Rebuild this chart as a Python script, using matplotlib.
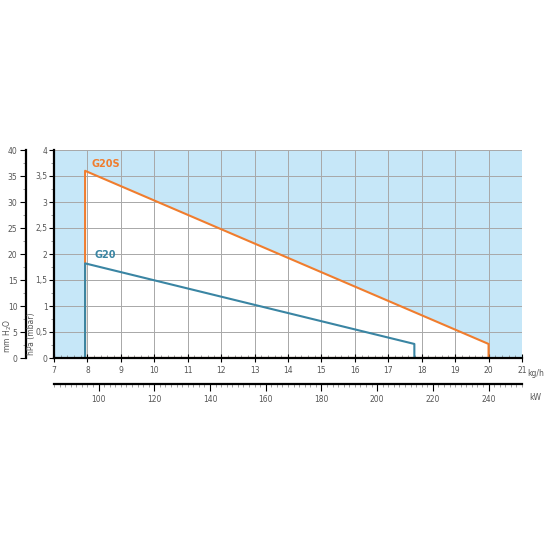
import matplotlib
matplotlib.use("Agg")
import matplotlib.pyplot as plt
from matplotlib.ticker import MultipleLocator, FuncFormatter

# data
g20s_x = [7.93, 7.93, 20.0, 20.0]
g20s_y = [0.0, 3.6, 0.27, 0.0]
g20_x = [7.93, 7.93, 17.78, 17.78]
g20_y = [0.0, 1.82, 0.27, 0.0]
x_ticks = list(range(7, 22))
y_ticks = [0, 0.5, 1, 1.5, 2, 2.5, 3, 3.5, 4]
mm_ticks = [0, 5, 10, 15, 20, 25, 30, 35, 40]
kw_ticks = [100, 120, 140, 160, 180, 200, 220, 240]
kw_per_kgh = 12.0
mm_per_hpa = 10.0

orange = "#f07d2e"
blue = "#3a85a3"
bg = "#c6e7f8"
tick_col = "#555555"

fig = plt.figure(figsize=(5.5, 5.5), dpi=100)
ax = fig.add_axes([54/550, 1-358/550, 468/550, 208/550])
ax.set_xlim(7, 21)
ax.set_ylim(0, 4)
ax.set_facecolor(bg)

ax.fill(g20s_x, g20s_y, color="white", zorder=0.8, lw=0)
ax.set_axisbelow(False)
ax.grid(True, color="#a8a8a8", lw=0.7, zorder=1)
for gl in ax.get_xgridlines() + ax.get_ygridlines():
    gl.set_zorder(1)

ax.plot(g20s_x + [g20s_x[0]], g20s_y + [g20s_y[0]], color=orange, lw=1.5, zorder=3)
ax.plot(g20_x, g20_y, color=blue, lw=1.5, zorder=3.5)

ax.text(8.12, 3.64, "G20S", color=orange, fontsize=7, fontweight="bold", ha="left", va="bottom")
ax.text(8.2, 1.88, "G20", color=blue, fontsize=7, fontweight="bold", ha="left", va="bottom")

for s in ["top", "right"]:
    ax.spines[s].set_visible(False)
ax.spines["left"].set_linewidth(1.6)
ax.spines["bottom"].set_linewidth(1.6)
ax.spines["left"].set_zorder(5)
ax.spines["bottom"].set_zorder(5)

comma = FuncFormatter(lambda v, p: ("%g" % v).replace(".", ","))
ax.set_xticks(x_ticks)
ax.set_yticks(y_ticks)
ax.yaxis.set_major_formatter(comma)
ax.xaxis.set_minor_locator(MultipleLocator(0.2))
ax.yaxis.set_minor_locator(MultipleLocator(0.25))
ax.tick_params(axis="both", which="major", labelsize=5.5, labelcolor=tick_col, color="black", length=3.5, width=0.8)
ax.tick_params(axis="x", which="major", direction="inout", length=6)
ax.tick_params(axis="x", which="minor", direction="in", length=2.2, width=0.5, color="#777777")
ax.tick_params(axis="y", which="minor", length=2, width=0.5, color="#777777")
ax.tick_params(axis="x", pad=3)
ax.tick_params(axis="y", pad=1.2)

ax.text(21.15, -0.3, "kg/h", fontsize=5.5, color=tick_col, ha="left", va="center")

# mm H2O axis
sec_y = ax.secondary_yaxis(-0.06, functions=(lambda v: v*mm_per_hpa, lambda v: v/mm_per_hpa))
sec_y.set_yticks(mm_ticks)
sec_y.yaxis.set_minor_locator(MultipleLocator(2.5))
sec_y.spines["left"].set_linewidth(1.6)
sec_y.tick_params(which="major", labelsize=5.5, labelcolor=tick_col, length=4, width=0.8, pad=2)
sec_y.tick_params(which="minor", length=2, width=0.5, color="#777777")

# kW axis
sec_x = ax.secondary_xaxis(-0.125, functions=(lambda v: v*kw_per_kgh, lambda v: v/kw_per_kgh))
sec_x.set_xticks(kw_ticks)
sec_x.xaxis.set_minor_locator(MultipleLocator(2))
sec_x.spines["bottom"].set_linewidth(1.6)
sec_x.tick_params(which="major", labelsize=5.5, labelcolor=tick_col, length=5, width=0.8, pad=3)
sec_x.tick_params(which="minor", length=2.5, width=0.5, color="#777777")

fig.text(535/550, 1-397/550, "kW", fontsize=5.5, color=tick_col, ha="center", va="center")
fig.text(31.5/550, 1-334/550, "hPa (mbar)", fontsize=5.5, color=tick_col, rotation=90, ha="center", va="center")
fig.text(8/550, 1-336/550, "mm H$_2$O", fontsize=5.5, color=tick_col, rotation=90, ha="center", va="center")

fig.savefig("out.png", dpi=100)
